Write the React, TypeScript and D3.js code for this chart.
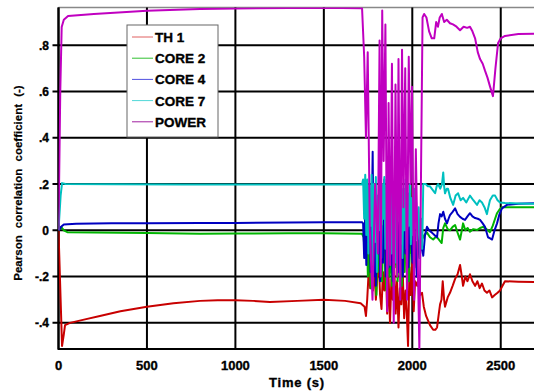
import React from "react";
import * as d3 from "d3";

const W = 534;
const H = 391;

const xTickValues = [0, 500, 1000, 1500, 2000, 2500];
const xTickLabels = ["0", "500", "1000", "1500", "2000", "2500"];
const yTickValues = [0.8, 0.6, 0.4, 0.2, 0, -0.2, -0.4];
const yTickLabels = [".8", ".6", ".4", ".2", "0", "-.2", "-.4"];

const seriesNames = ["TH 1", "CORE 2", "CORE 4", "CORE 7", "POWER"];
const seriesColors = ["#c80000", "#00b400", "#0000c0", "#00c0c0", "#c000c0"];
const legendColors = ["#e06060", "#30c030", "#5050e0", "#50d8d8", "#a020a0"];

const th1: [number, number][] = [
  [0, 0], [12, -0.3], [20, -0.5], [30, -0.45], [37, -0.41], [65, -0.4], [150, -0.385], [234, -0.37],
  [350, -0.35], [500, -0.33], [650, -0.315], [800, -0.305], [900, -0.302], [1000, -0.302],
  [1100, -0.305], [1195, -0.31], [1350, -0.305], [1500, -0.3], [1620, -0.305], [1708, -0.315],
  [1730, -0.33], [1738, -0.37], [1745, -0.3], [1754, -0.17], [1762, -0.25], [1770, -0.12],
  [1778, -0.26], [1786, -0.15], [1794, -0.3], [1802, -0.2], [1810, -0.12], [1818, -0.28],
  [1826, -0.34], [1834, -0.18], [1842, -0.26], [1850, -0.14], [1858, -0.36], [1866, -0.2],
  [1874, -0.4], [1882, -0.21], [1890, -0.3], [1898, -0.16], [1906, -0.36], [1914, -0.22],
  [1922, -0.42], [1930, -0.25], [1938, -0.32], [1946, -0.18], [1954, -0.38], [1962, -0.26],
  [1968, -0.34], [1976, -0.5], [1984, -0.16], [1992, -0.28], [2000, -0.14], [2008, -0.35],
  [2016, -0.22], [2028, -0.24], [2036, -0.2], [2044, -0.28], [2055, -0.27], [2065, -0.33],
  [2078, -0.37], [2100, -0.41], [2118, -0.43], [2130, -0.43], [2140, -0.42], [2150, -0.36],
  [2157, -0.32], [2165, -0.3], [2172, -0.22], [2180, -0.3], [2185, -0.33], [2200, -0.29],
  [2213, -0.27], [2228, -0.24], [2242, -0.21], [2256, -0.19], [2270, -0.15], [2280, -0.2],
  [2287, -0.24], [2300, -0.2], [2312, -0.22], [2326, -0.19], [2340, -0.22], [2355, -0.24],
  [2368, -0.22], [2381, -0.25], [2394, -0.23], [2408, -0.26], [2422, -0.27], [2436, -0.26],
  [2451, -0.29], [2466, -0.28], [2482, -0.27], [2496, -0.26], [2510, -0.24], [2524, -0.22],
  [2600, -0.222], [2688, -0.223]
];

const core2: [number, number][] = [
  [0, 0], [15, 0.015], [30, 0.0], [50, -0.008], [200, -0.01], [500, -0.012], [800, -0.015],
  [1000, -0.014], [1300, -0.013], [1500, -0.013], [1716, -0.015], [1725, -0.03], [1733, -0.12],
  [1741, 0.05], [1749, -0.2], [1757, -0.05], [1765, -0.25], [1773, 0.02], [1781, -0.15],
  [1789, -0.08], [1797, -0.28], [1805, 0.0], [1813, -0.18], [1821, -0.06], [1829, -0.22],
  [1837, 0.04], [1845, -0.14], [1853, -0.26], [1861, -0.04], [1869, -0.2], [1877, -0.1],
  [1885, -0.24], [1893, 0.02], [1901, -0.16], [1909, -0.06], [1917, -0.22], [1925, -0.02],
  [1933, -0.14], [1941, -0.24], [1949, -0.04], [1957, -0.18], [1965, 0.0], [1973, -0.12],
  [1981, -0.22], [1989, -0.02], [1997, -0.1], [2005, 0.06], [2013, -0.16], [2021, -0.05],
  [2029, -0.12], [2037, 0.0], [2045, -0.08], [2055, -0.04], [2068, -0.02], [2083, -0.01],
  [2100, -0.03], [2118, -0.04], [2130, -0.03], [2140, -0.03], [2155, -0.045], [2166, -0.055],
  [2175, 0.01], [2185, 0.03], [2200, 0.005], [2213, 0.0], [2228, 0.015], [2242, 0.023],
  [2256, -0.01], [2270, -0.04], [2280, 0.0], [2287, 0.03], [2300, 0.0], [2313, 0.01],
  [2326, -0.006], [2345, 0.005], [2366, 0.001], [2383, 0.01], [2400, 0.015], [2420, 0.005],
  [2439, -0.008], [2455, 0.02], [2468, 0.05], [2479, 0.074], [2493, 0.09], [2507, 0.1],
  [2600, 0.1], [2688, 0.1]
];

const core4: [number, number][] = [
  [0, 0], [15, 0.015], [30, 0.025], [100, 0.028], [300, 0.03], [500, 0.031], [800, 0.032],
  [1000, 0.032], [1300, 0.034], [1500, 0.035], [1716, 0.035], [1722, 0.03], [1728, -0.12],
  [1734, 0.08], [1740, -0.15], [1746, 0.12], [1752, -0.05], [1758, 0.2], [1764, -0.18],
  [1770, 0.0], [1776, 0.34], [1782, -0.2], [1788, 0.05], [1794, -0.24], [1800, 0.1],
  [1806, -0.1], [1812, 0.18], [1818, -0.22], [1826, 0.02], [1834, -0.14], [1842, 0.22],
  [1850, -0.2], [1858, 0.05], [1866, -0.16], [1874, 0.14], [1882, -0.08], [1890, -0.22],
  [1898, 0.1], [1906, -0.12], [1914, 0.06], [1922, -0.18], [1930, 0.16], [1938, -0.06],
  [1946, -0.2], [1954, 0.08], [1962, -0.1], [1970, 0.04], [1978, -0.16], [1986, 0.12],
  [1994, -0.04], [2002, -0.14], [2010, 0.06], [2018, -0.08], [2026, -0.2], [2034, 0.04],
  [2042, -0.12], [2050, -0.05], [2062, -0.11], [2072, -0.02], [2083, 0.015], [2095, 0.0],
  [2111, -0.01], [2125, -0.02], [2140, -0.03], [2148, 0.03], [2157, 0.07], [2166, 0.06],
  [2175, 0.08], [2185, 0.05], [2196, 0.03], [2205, 0.05], [2213, 0.066], [2228, 0.08],
  [2242, 0.095], [2256, 0.07], [2270, 0.058], [2284, 0.05], [2298, 0.045], [2312, 0.06],
  [2326, 0.074], [2340, 0.06], [2355, 0.053], [2370, 0.05], [2383, 0.045], [2398, 0.03],
  [2411, 0.015], [2428, -0.03], [2440, -0.035], [2451, -0.04], [2465, 0.0], [2479, 0.03],
  [2493, 0.07], [2507, 0.095], [2535, 0.11], [2600, 0.115], [2688, 0.117]
];

const core7: [number, number][] = [
  [0, 0], [12, 0.15], [20, 0.204], [40, 0.2], [300, 0.199], [700, 0.198], [1000, 0.198],
  [1400, 0.198], [1716, 0.198], [1722, 0.22], [1728, 0.05], [1734, 0.24], [1740, -0.02],
  [1746, 0.22], [1752, -0.1], [1758, 0.18], [1764, 0.02], [1770, 0.24], [1776, -0.15],
  [1782, 0.2], [1788, -0.05], [1794, 0.23], [1800, -0.18], [1806, 0.15], [1812, 0.0],
  [1818, 0.24], [1824, -0.12], [1830, 0.2], [1836, 0.05], [1842, 0.23], [1848, -0.08],
  [1854, 0.19], [1860, -0.16], [1866, 0.22], [1872, 0.02], [1878, 0.24], [1884, -0.1],
  [1890, 0.18], [1896, -0.04], [1902, 0.22], [1908, -0.14], [1914, 0.16], [1920, 0.04],
  [1926, 0.24], [1932, -0.06], [1938, 0.2], [1944, -0.12], [1950, 0.18], [1956, 0.0],
  [1962, 0.22], [1968, -0.08], [1974, 0.16], [1980, 0.02], [1986, 0.2], [1992, -0.06],
  [1998, 0.14], [2004, -0.02], [2010, 0.18], [2016, 0.04], [2022, 0.12], [2028, -0.04],
  [2036, 0.1], [2044, -0.12], [2050, 0.05], [2056, -0.08], [2062, 0.2], [2075, 0.2],
  [2088, 0.19], [2100, 0.19], [2115, 0.175], [2129, 0.16], [2138, 0.19], [2146, 0.2],
  [2158, 0.18], [2168, 0.2], [2175, 0.25], [2180, 0.19], [2185, 0.16], [2195, 0.18],
  [2202, 0.18], [2215, 0.14], [2231, 0.11], [2245, 0.15], [2259, 0.16], [2273, 0.13],
  [2287, 0.14], [2305, 0.12], [2326, 0.15], [2345, 0.13], [2366, 0.11], [2380, 0.13],
  [2394, 0.12], [2408, 0.1], [2422, 0.07], [2430, 0.1], [2439, 0.13], [2455, 0.15],
  [2468, 0.15], [2482, 0.13], [2496, 0.12], [2524, 0.118], [2600, 0.116], [2688, 0.115]
];

const power: [number, number][] = [
  [0, 0], [10, 0.6], [18, 0.879], [30, 0.91], [54, 0.926], [200, 0.935], [500, 0.949],
  [800, 0.956], [1000, 0.959], [1300, 0.961], [1600, 0.961], [1716, 0.96], [1728, 0.75],
  [1738, 0.4], [1748, 0.77], [1760, 0.0], [1775, -0.3], [1790, 0.2], [1805, -0.1],
  [1815, 0.82], [1822, -0.2], [1830, 0.95], [1838, 0.3], [1848, 0.89], [1858, -0.35],
  [1866, 0.55], [1875, -0.15], [1885, 0.72], [1895, -0.4], [1905, 0.63], [1915, -0.2],
  [1922, 0.74], [1932, -0.3], [1942, 0.78], [1950, 0.1], [1960, 0.7], [1970, -0.3],
  [1980, 0.75], [1990, 0.2], [1998, 0.62], [2010, -0.3], [2020, 0.35], [2030, -0.1],
  [2040, -0.51], [2050, 0.3], [2058, 0.92], [2067, 0.935], [2080, 0.92], [2095, 0.86],
  [2110, 0.83], [2124, 0.83], [2135, 0.9], [2145, 0.88], [2155, 0.92], [2167, 0.935],
  [2180, 0.9], [2195, 0.91], [2213, 0.895], [2230, 0.89], [2250, 0.88], [2270, 0.865],
  [2290, 0.88], [2310, 0.875], [2326, 0.88], [2340, 0.86], [2355, 0.83], [2370, 0.77],
  [2383, 0.74], [2398, 0.72], [2411, 0.69], [2425, 0.66], [2440, 0.62], [2456, 0.58],
  [2470, 0.7], [2485, 0.81], [2500, 0.83], [2524, 0.84], [2600, 0.848], [2688, 0.85]
];

const allSeries = [th1, core2, core4, core7, power];

export default function App() {
  const left = 58.5;
  const right = 534;
  const top = 7.5;
  const bottom = 349;
  const x = d3.scaleLinear().domain([0, 2688]).range([left, right]);
  const y = d3.scaleLinear().domain([-0.513, 0.963]).range([bottom, top]);
  const line = d3
    .line<[number, number]>()
    .x((d) => x(d[0]))
    .y((d) => y(d[1]));

  const font = "'Liberation Sans', Arial, sans-serif";
  const textStroke = { stroke: "#000", strokeWidth: 0.35 };

  const legX = 127;
  const legY = 25;
  const legW = 91;
  const legH = 112;
  const legStep = 21.2;

  return (
    <svg
      width={W}
      height={H}
      style={{ position: "absolute", left: 0, top: 0, background: "#fff" }}
    >
      <defs>
        <clipPath id="plotclip">
          <rect x={left} y={top} width={right - left} height={bottom - top} />
        </clipPath>
      </defs>
      <rect x={0} y={0} width={W} height={H} fill="#fff" />
      <line x1={left} x2={right} y1={top} y2={top} stroke="#888" strokeWidth={1.5} />
      {yTickValues.map((v) => (
        <line key={"hy" + v} x1={left - 6} x2={right} y1={y(v)} y2={y(v)} stroke="#000" strokeWidth={2} />
      ))}
      {xTickValues.map((v) => (
        <line key={"vx" + v} x1={x(v)} x2={x(v)} y1={top} y2={bottom} stroke="#000" strokeWidth={2} />
      ))}
      <line x1={left} x2={left} y1={top} y2={bottom + 1} stroke="#000" strokeWidth={2} />
      <line x1={left} x2={right} y1={bottom} y2={bottom} stroke="#000" strokeWidth={2} />

      <g clipPath="url(#plotclip)">
        {allSeries.map((s, i) => (
          <path
            key={seriesNames[i]}
            d={line(s) || ""}
            fill="none"
            stroke={seriesColors[i]}
            strokeWidth={2}
            strokeLinejoin="round"
          />
        ))}
      </g>

      {yTickValues.map((v, i) => (
        <text
          key={"yl" + v}
          x={49}
          y={y(v) + 4.5}
          textAnchor="end"
          fontFamily={font}
          fontWeight="bold"
          fontSize={12}
          fill="#000"
          {...textStroke}
        >
          {yTickLabels[i]}
        </text>
      ))}
      {xTickValues.map((v, i) => (
        <text
          key={"xl" + v}
          x={x(v)}
          y={370}
          textAnchor="middle"
          fontFamily={font}
          fontWeight="bold"
          fontSize={13}
          fill="#000"
          {...textStroke}
        >
          {xTickLabels[i]}
        </text>
      ))}

      <text
        x={297}
        y={387}
        textAnchor="middle"
        fontFamily={font}
        fontWeight="bold"
        fontSize={13}
        letterSpacing={0.8}
        fill="#000"
        {...textStroke}
      >
        Time (s)
      </text>
      <text
        transform="translate(21.5,183) rotate(-90)"
        textAnchor="middle"
        fontFamily={font}
        fontWeight="bold"
        fontSize={11.5}
        wordSpacing={4}
        fill="#000"
        stroke="#000"
        strokeWidth={0.2}
      >
        Pearson correlation coefficient  (-)
      </text>

      <rect x={legX} y={legY} width={legW} height={legH} fill="#fff" stroke="#666" strokeWidth={1} />
      {seriesNames.map((n, i) => {
        const cy = legY + 12 + i * legStep;
        return (
          <g key={"lg" + n}>
            <line x1={legX + 5} x2={legX + 26} y1={cy} y2={cy} stroke={legendColors[i]} strokeWidth={1} />
            <text
              x={legX + 28}
              y={cy + 5}
              fontFamily={font}
              fontWeight="bold"
              fontSize={13.5}
              fill="#000"
              {...textStroke}
            >
              {n}
            </text>
          </g>
        );
      })}
    </svg>
  );
}
